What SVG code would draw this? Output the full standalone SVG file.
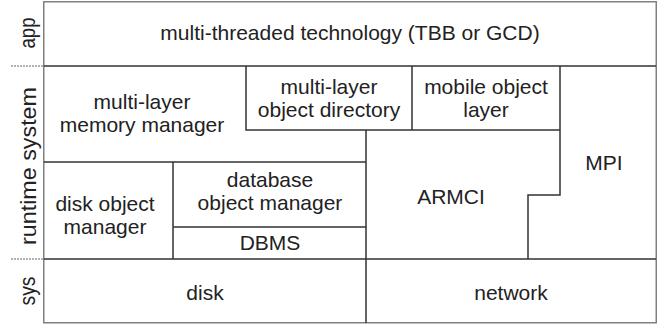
<svg xmlns="http://www.w3.org/2000/svg" width="659" height="325" viewBox="0 0 659 325">
<style>
text{font-family:"Liberation Sans",Arial,sans-serif;font-size:21px;fill:#222;text-anchor:middle}
.side{font-size:22px}
.ln{stroke:#333;stroke-width:1.5;fill:none}
.sep{stroke:#999;stroke-width:1.5;stroke-dasharray:2 1;fill:none}
</style>
<rect x="0" y="0" width="659" height="325" fill="#fff"/>
<g id="layer-labels">
<line class="sep" x1="11" y1="66" x2="44" y2="66"/>
<line class="sep" x1="11" y1="259" x2="44" y2="259"/>
<text class="side" transform="translate(35 33) rotate(-90)" textLength="31" lengthAdjust="spacingAndGlyphs">app</text>
<text class="side" transform="translate(36 166) rotate(-90)" textLength="158" lengthAdjust="spacingAndGlyphs">runtime system</text>
<text class="side" transform="translate(35 291) rotate(-90)" textLength="29" lengthAdjust="spacingAndGlyphs">sys</text>
</g>
<rect x="43.75" y="1.75" width="612.5" height="321" fill="none" stroke="#808080" stroke-width="1.5"/>
<g id="connectors">
<path class="ln" d="M44 66H656M44 259H656"/>
<path class="ln" d="M246 66V130H560M412 66V130"/>
<path class="ln" d="M560 66V195H528V259"/>
<path class="ln" d="M44 162H366M366 130V323M173 162V259M173 227H366"/>
</g>
<g id="app"><text x="350" y="40">multi-threaded technology (TBB or GCD)</text></g>
<g id="memory-manager"><text x="142" y="109">multi-layer</text><text x="142" y="132">memory manager</text></g>
<g id="object-directory"><text x="329" y="94">multi-layer</text><text x="329" y="117">object directory</text></g>
<g id="mobile-object-layer"><text x="486" y="94">mobile object</text><text x="486" y="117">layer</text></g>
<g id="mpi"><text x="604" y="170">MPI</text></g>
<g id="armci"><text x="451" y="204">ARMCI</text></g>
<g id="disk-object-manager"><text x="105" y="211">disk object</text><text x="105" y="234">manager</text></g>
<g id="database-object-manager"><text x="270" y="187">database</text><text x="270" y="210">object manager</text></g>
<g id="dbms"><text x="270" y="250">DBMS</text></g>
<g id="disk"><text x="205" y="300">disk</text></g>
<g id="network"><text x="511" y="300">network</text></g>
</svg>
